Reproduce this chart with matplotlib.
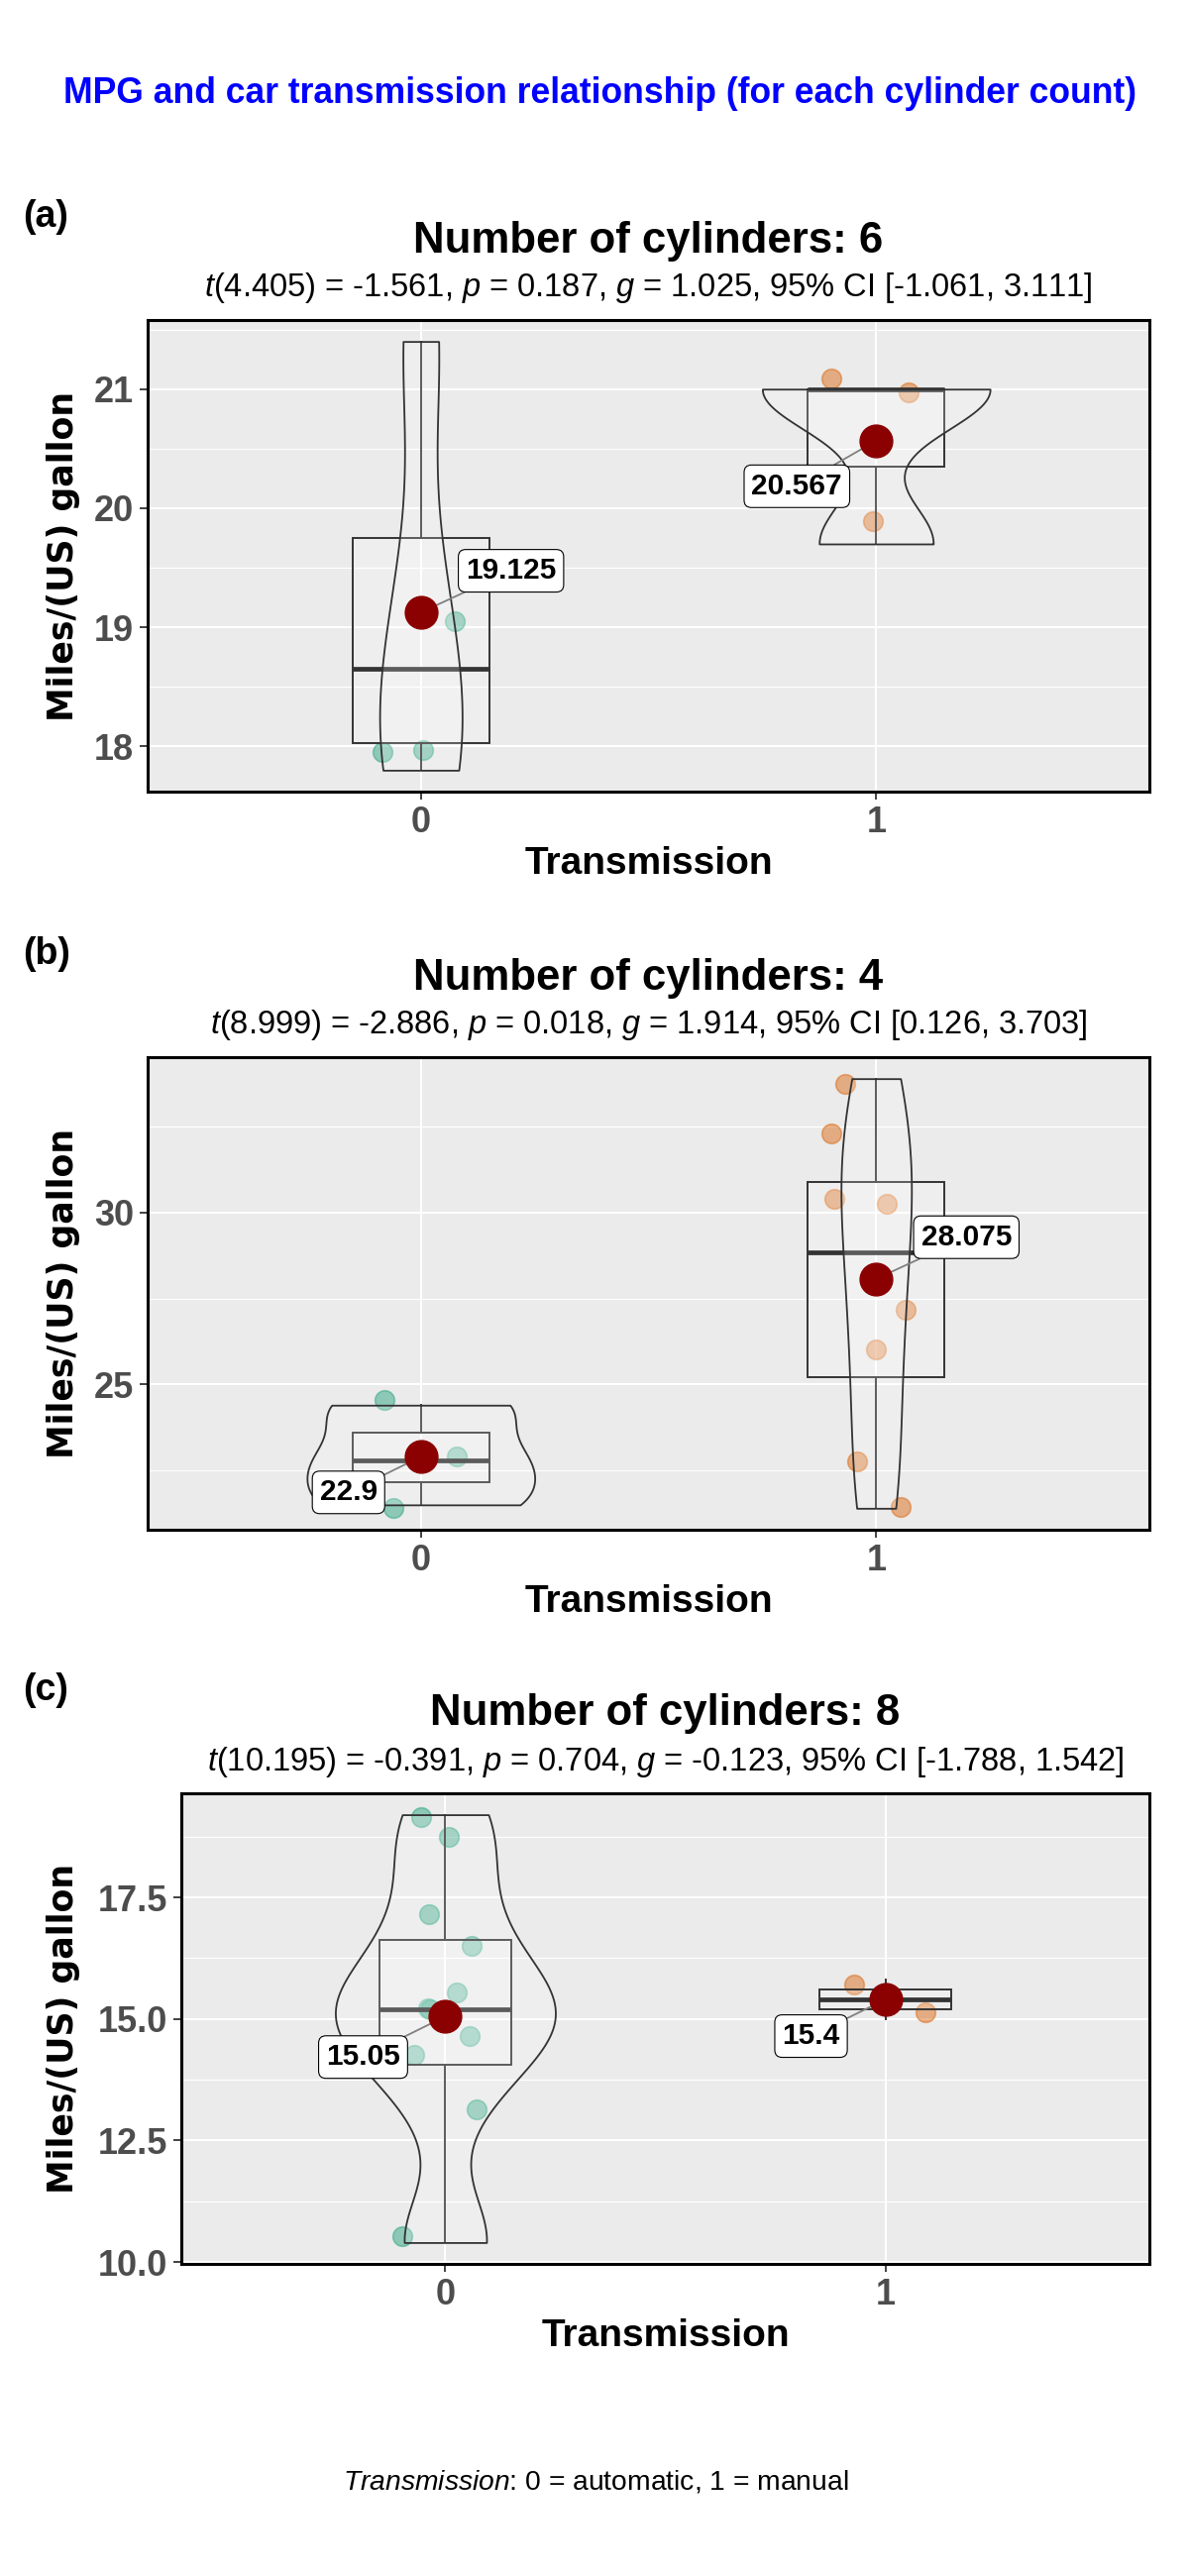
import numpy as np
import matplotlib
matplotlib.use("Agg")
import matplotlib.pyplot as plt

plt.rcParams['font.family'] = ['Liberation Sans', 'DejaVu Sans']
plt.rcParams['mathtext.fontset'] = 'custom'
plt.rcParams['mathtext.rm'] = 'Liberation Sans'
plt.rcParams['mathtext.it'] = 'Liberation Sans:italic'

# mtcars mpg split by cylinder count and transmission (0 = automatic, 1 = manual)
mpg_6_auto = [21.4, 18.1, 19.2, 17.8]
mpg_6_manual = [21.0, 21.0, 19.7]
mpg_4_auto = [24.4, 22.8, 21.5]
mpg_4_manual = [22.8, 32.4, 30.4, 33.9, 27.3, 26.0, 30.4, 21.4]
mpg_8_auto = [18.7, 14.3, 16.4, 17.3, 15.2, 10.4, 10.4, 14.7, 15.5, 15.2, 13.3, 19.2]
mpg_8_manual = [15.8, 15.0]

# jittered points as they appear in the chart (offset from category, mpg)
jit_6_auto_dx = [-0.085, 0.006, 0.074]
jit_6_auto_y = [17.95, 17.97, 19.05]
jit_6_manual_dx = [-0.099, 0.072, -0.007]
jit_6_manual_y = [21.09, 20.97, 19.89]
jit_4_auto_dx = [-0.081, 0.078, -0.061]
jit_4_auto_y = [24.54, 22.90, 21.41]
jit_4_manual_dx = [-0.067, -0.098, -0.091, 0.024, 0.065, 0.0, -0.041, 0.054]
jit_4_manual_y = [33.76, 32.30, 30.40, 30.26, 27.16, 26.03, 22.76, 21.44]
jit_8_auto_dx = [-0.056, 0.009, -0.038, 0.059, 0.027, -0.040, -0.034, 0.056, -0.070, 0.070, -0.097]
jit_8_auto_y = [19.15, 18.74, 17.15, 16.50, 15.55, 15.21, 15.19, 14.65, 14.27, 13.13, 10.53]
jit_8_manual_dx = [-0.072, 0.092]
jit_8_manual_y = [15.71, 15.14]

cylinders = [6, 4, 8]
tags = ["(a)", "(b)", "(c)"]
subtitles = [
    r"$\mathit{t}$(4.405) = -1.561, $\mathit{p}$ = 0.187, $\mathit{g}$ = 1.025, 95% CI [-1.061, 3.111]",
    r"$\mathit{t}$(8.999) = -2.886, $\mathit{p}$ = 0.018, $\mathit{g}$ = 1.914, 95% CI [0.126, 3.703]",
    r"$\mathit{t}$(10.195) = -0.391, $\mathit{p}$ = 0.704, $\mathit{g}$ = -0.123, 95% CI [-1.788, 1.542]",
]
y_ticks = [[18, 19, 20, 21], [25, 30], [10.0, 12.5, 15.0, 17.5]]
y_tick_labels = [["18", "19", "20", "21"], ["25", "30"], ["10.0", "12.5", "15.0", "17.5"]]
x_labels = ["0", "1"]

auto_sets = [mpg_6_auto, mpg_4_auto, mpg_8_auto]
manual_sets = [mpg_6_manual, mpg_4_manual, mpg_8_manual]
jit_dx = [[jit_6_auto_dx, jit_6_manual_dx], [jit_4_auto_dx, jit_4_manual_dx], [jit_8_auto_dx, jit_8_manual_dx]]
jit_y = [[jit_6_auto_y, jit_6_manual_y], [jit_4_auto_y, jit_4_manual_y], [jit_8_auto_y, jit_8_manual_y]]

# layout in pixels (left, top, right, bottom) and label offsets
W, H = 1200, 2600
panels_px = [(149, 323, 1160, 799), (149, 1067, 1160, 1544), (183, 1810, 1160, 2285)]
label_offsets = [[(91, 42), (-80, -46)], [(-73, -36), (91, 42)], [(-83, -41), (-75, -37)]]
point_colors = ["#1B9E77", "#D95F02"]


def fx(x):
    return x / W


def fy(y):
    return 1 - y / H


def density_nrd0(vals, n=512):
    v = np.asarray(vals, dtype=float)
    q1, q3 = np.percentile(v, [25, 75])
    lo = min(v.std(ddof=1), (q3 - q1) / 1.34)
    bw = 0.9 * lo * len(v) ** -0.2
    ys = np.linspace(v.min(), v.max(), n)
    z = (ys[:, None] - v[None, :]) / bw
    d = np.exp(-0.5 * z ** 2).sum(axis=1) / (len(v) * bw * np.sqrt(2 * np.pi))
    return ys, d


fig = plt.figure(figsize=(12, 26), dpi=100)
fig.patch.set_facecolor("white")

fig.text(fx(606), fy(94), "MPG and car transmission relationship (for each cylinder count)",
         ha="center", va="center", fontsize=25.6, fontweight="bold", color="blue")

for i in range(3):
    l, t, r, b = panels_px[i]
    ax = fig.add_axes([fx(l), fy(b), (r - l) / W, (b - t) / H])
    ax.set_facecolor("#EBEBEB")
    groups = [auto_sets[i], manual_sets[i]]

    # jittered points
    for k in range(2):
        xs = k + np.array(jit_dx[i][k])
        ax.scatter(xs, jit_y[i][k], s=200, color=point_colors[k], alpha=0.45,
                   edgecolors=point_colors[k], linewidths=1.2, zorder=2)

    # boxplots
    ax.boxplot(groups, positions=[0, 1], widths=0.3, showcaps=False, showfliers=False,
               patch_artist=True,
               boxprops=dict(facecolor=(1, 1, 1, 0.2), edgecolor="#333333", linewidth=1.4),
               whiskerprops=dict(color="#333333", linewidth=1.4),
               medianprops=dict(color="#333333", linewidth=3.4),
               zorder=3)

    # violins (area scaled inside the panel, groups with < 3 obs dropped)
    dens = []
    for g in groups:
        if len(g) >= 3:
            dens.append(density_nrd0(g))
        else:
            dens.append(None)
    dmax = max(d[1].max() for d in dens if d is not None)
    for k, d in enumerate(dens):
        if d is None:
            continue
        ys, dd = d
        half = 0.25 * dd / dmax
        ax.fill_betweenx(ys, k - half, k + half, facecolor=(1, 1, 1, 0.2),
                         edgecolor="#333333", linewidth=1.3, zorder=4)

    # means with labels
    for k, g in enumerate(groups):
        m = np.mean(g)
        ax.scatter([k], [m], s=560, color="#8B0000", zorder=7)
        ax.annotate(f"{round(m, 3):g}", xy=(k, m), xytext=label_offsets[i][k],
                    textcoords="offset pixels", ha="center", va="center",
                    fontsize=21.5, fontweight="bold", color="black",
                    bbox=dict(boxstyle="round,pad=0.25,rounding_size=0.25", fc="white",
                              ec="black", lw=0.8),
                    arrowprops=dict(arrowstyle="-", color="#808080", lw=1.3,
                                    shrinkA=0, shrinkB=3),
                    zorder=6)

    # scales
    allv = np.concatenate([auto_sets[i], manual_sets[i]])
    span = allv.max() - allv.min()
    ax.set_xlim(-0.6, 1.6)
    ax.set_xticks([0, 1], labels=x_labels, fontweight="bold")
    ax.set_yticks(y_ticks[i], labels=y_tick_labels[i], fontweight="bold")
    step = y_ticks[i][1] - y_ticks[i][0]
    minor = np.arange(y_ticks[i][0] - step / 2, allv.max() + step, step)
    ax.set_yticks(minor, minor=True)
    ax.set_ylim(allv.min() - 0.05 * span, allv.max() + 0.05 * span)
    ax.tick_params(which="major", length=6, width=1.3, color="#333333",
                   labelsize=26, labelcolor="#4D4D4D", pad=4)
    ax.tick_params(which="minor", length=0)
    ax.grid(which="major", color="white", linewidth=1.5)
    ax.grid(which="minor", axis="y", color="white", linewidth=0.8)
    ax.set_axisbelow(True)
    for s in ax.spines.values():
        s.set_color("black")
        s.set_linewidth(2.2)

    # texts around the panel
    cx = (l + r) / 2
    fig.text(fx(23), fy(t - 104), tags[i], ha="left", va="center", fontsize=27, fontweight="bold")
    fig.text(fx(cx), fy(t - 80), f"Number of cylinders: {cylinders[i]}", ha="center", va="center",
             fontsize=31.5, fontweight="bold")
    fig.text(fx(cx), fy(t - 32), subtitles[i], ha="center", va="center", fontsize=23.5)
    fig.text(fx(cx), fy(b + 73), "Transmission", ha="center", va="center", fontsize=28,
             fontweight="bold")
    fig.text(fx(64), fy((t + b) / 2), "Miles/(US) gallon", rotation=90, ha="center", va="center",
             fontsize=25, fontweight="bold", family="DejaVu Sans")

fig.text(fx(601), fy(2505), r"$\mathit{Transmission}$: 0 = automatic, 1 = manual",
         ha="center", va="center", fontsize=20.3)

fig.savefig("out.png", dpi=100)
